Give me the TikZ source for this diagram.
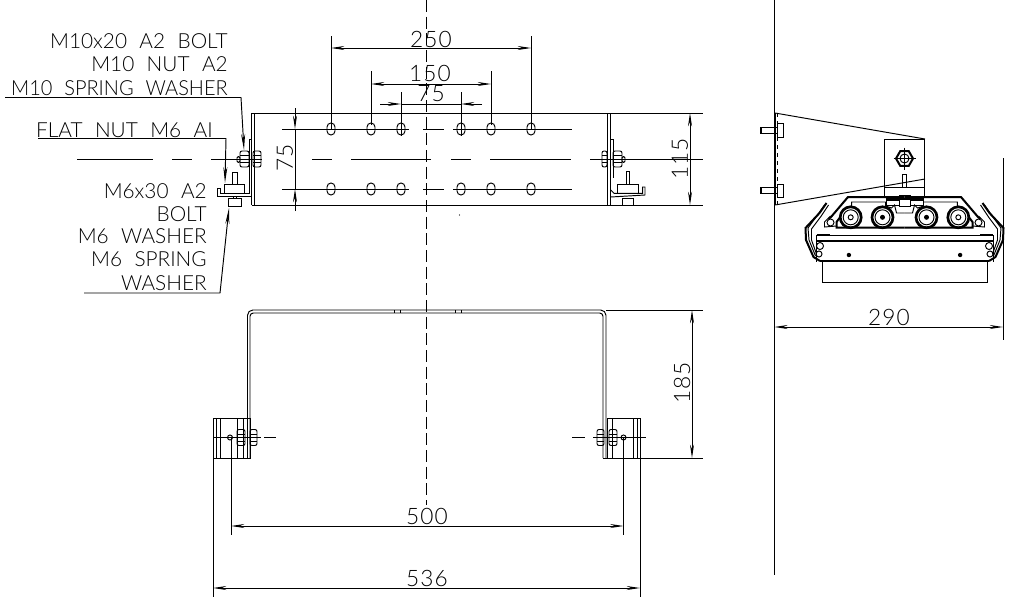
\documentclass[tikz,border=0pt]{standalone}
\usepackage{fontspec}
\setmainfont{Lato}[UprightFont=* Light,WordSpace=2.2]
\newfontfamily\dimfont{Lato}[UprightFont=* Light,LetterSpace=5]
\usetikzlibrary{arrows.meta}

\tikzset{
  partline/.style={line width=0.72pt},
  heavyline/.style={line width=1.5pt},
  rollerline/.style={line width=2pt},
  leaderline/.style={line width=0.72pt,-{Stealth[length=12pt,width=3pt]}},
  dimline/.style={line width=0.72pt,>={Stealth[length=10pt,width=3pt]}},
  cadtext/.style={inner sep=0pt,font=\fontsize{15.6}{15.6}\selectfont},
  dimtext/.style={inner sep=0pt,font=\dimfont\fontsize{17}{17}\selectfont},
  axisline/.style={line width=0.72pt,dash pattern=on 9pt off 3.5pt}
}
% oval hole in the top view
\newcommand{\slothole}[2]{\draw[partline,rounded corners=3pt] (#1,#2) +(-4,-6) rectangle +(4,6);}
% nut seen from the side, left edge, right edge
\newcommand{\sidenut}[3]{
  \draw[partline,rounded corners=1.5pt] (#1,#3-8) rectangle (#2,#3+8);
  \draw[partline] (#1,#3-3.5) -- (#2,#3-3.5);
  \draw[partline] (#1,#3+3.5) -- (#2,#3+3.5);
}
% left half of the carriage, centre at x=0
\newcommand{\carriagehalf}{
  \draw[heavyline] (0,197) -- (-56.5,197) -- (-73.5,217) -- (-76,219);
  \draw[partline] (0,213) -- (-8,213) -- (-10,205) -- (-13,208) -- (-19,206) -- (-19,202) -- (-52.8,202) -- (-52.8,207);
  \draw[heavyline] (0,227.5) -- (-68,227.5) -- (-68,222) -- (-65,218);
  \draw[partline] (-68,226) -- (-80,227) -- (-80,222) -- (-74,216);
  \draw[partline] (0,235) -- (-88.5,235) -- (-88.5,262);
  \draw[heavyline] (-88,234.5) -- (-75,234.5);
  \draw[heavyline] (0,240.7) -- (-89,240.7);
  \draw[heavyline] (0,260.7) -- (-84.5,260.7);
  \draw[partline] (-82.5,261) -- (-82.5,282) -- (0,282);
  \draw[heavyline] (-78,203) -- (-85,213) -- (-99,228) -- (-98.5,240) -- (-91,257) -- (-84.5,261);
  \draw[partline] (-76,205) -- (-84,217) -- (-93,229) -- (-93,240) -- (-88,254);
  \draw[partline] (-80,205) -- (-87,215) -- (-96.5,228) -- (-95.5,240) -- (-89,256);
  \draw[partline] (-74,222.5) circle (3.5);
  \draw[partline] (-84.5,246) circle (3.5);
  \draw[partline] (-85.5,254) circle (3);
  \fill (-55.6,255) circle (2.2);
  % outer and inner roller
  \draw[rollerline] (-53.8,217.3) circle (10.5);
  \draw[partline] (-53.8,217.3) circle (7.5);
  \draw[partline] (-53.8,217.3) circle (2.5);
  \draw[rollerline] (-22,217.3) circle (10.5);
  \draw[partline] (-22,217.3) circle (7.5);
  \fill (-22,217.3) circle (2.5);
}

\begin{document}
\begin{tikzpicture}[x=0.75pt,y=0.75pt,yscale=-1,xscale=1]
\useasboundingbox (0,0) rectangle (1017,600);

% Centre Lines
\draw[axisline] (426,0) -- (426,505);
\draw[partline] (77,159) -- (153,159);
\draw[partline] (172,159) -- (192,159);
\draw[partline] (211,159) -- (262,159);
\draw[partline] (312,159) -- (332,159);
\draw[partline] (351,159) -- (431,159);
\draw[partline] (451,159) -- (471,159);
\draw[partline] (490,159) -- (571,159);
\draw[partline] (590,159) -- (703,159);
\draw[partline] (282,129) -- (409,129);
\draw[partline] (423,129) -- (444,129);
\draw[partline] (453,129) -- (572,129);
\draw[partline] (282,189) -- (409,189);
\draw[partline] (423,189) -- (444,189);
\draw[partline] (453,189) -- (572,189);

% Top View Plate
\draw[partline] (251.5,113) -- (703,113);
\draw[partline] (251.5,205) -- (703,205);
\draw[partline] (251.5,113) -- (251.5,205);
\draw[partline] (254,113) -- (254,205);
\draw[partline] (607.3,113) -- (607.3,205);
\draw[partline] (610.7,113) -- (610.7,205);
\fill (459.5,215) circle (0.6);

% Slots
\slothole{331}{129}
\slothole{371}{129}
\slothole{401}{129}
\slothole{461}{129}
\slothole{491}{129}
\slothole{531}{129}
\slothole{331}{189}
\slothole{371}{189}
\slothole{401}{189}
\slothole{461}{189}
\slothole{491}{189}
\slothole{531}{189}

% Left Clamp
\draw[partline] (249,139) -- (251.5,139);
\draw[partline] (249,139) -- (249,193) -- (220,193) -- (220,188) -- (217,188) -- (217,196) -- (251.5,196);
\draw[partline] (224,192.5) -- (224,184) -- (244,184) -- (244,192.5);
\draw[partline] (232,184) -- (232,172) -- (237,172) -- (237,184);
\draw[partline] (228,198) rectangle (241,206);
\draw[partline] (233,196) -- (233,198);
\draw[partline] (236,196) -- (236,198);
\sidenut{240}{249}{159}
\sidenut{253}{261}{159}
\draw[partline,rounded corners=1pt] (237,156.5) rectangle (240,162.5);

% Right Clamp
\draw[partline] (610.7,139) -- (613,139) -- (613,178);
\draw[partline] (610.7,190) -- (614,193.3) -- (642.7,193.3) -- (642.7,187) -- (645,187) -- (645,195) -- (610.7,197);
\draw[partline] (617,192.5) -- (617,184) -- (638,184) -- (638,192.5);
\draw[partline] (626,184) -- (626,171) -- (629.5,171) -- (629.5,184);
\draw[partline] (622,198) rectangle (633,205);
\sidenut{602}{607}{159}
\sidenut{613}{622}{159}
\draw[partline,rounded corners=1pt] (622,156.5) rectangle (625,162.5);

% Lower Bracket
\draw[partline,rounded corners=4pt] (247.5,458) -- (247.5,310) -- (606,310) -- (606,458);
\draw[partline,rounded corners=2.5pt] (250,458) -- (250,313) -- (603,313) -- (603,458);
\draw[partline] (606,310) -- (703,310);
\draw[partline] (394,310) -- (394,313);
\draw[partline] (400,310) -- (400,313);
\draw[partline] (455,310) -- (455,313);
\draw[partline] (461,310) -- (461,313);

% Left Foot
\draw[partline] (213,418) rectangle (250,458);
\draw[partline] (216,418) -- (216,458);
\draw[partline] (220,418) -- (220,458);
\draw[partline] (237,418) -- (237,458);
\draw[partline] (243,418) -- (243,458);
\draw[partline] (213,437.5) -- (261,437.5);
\draw[partline] (264,437.5) -- (276,437.5);
\sidenut{237}{245}{437.5}
\sidenut{250}{257}{437.5}
\draw[partline] (230,437.5) circle (2.5);

% Right Foot
\draw[partline] (607,418) rectangle (640,458);
\draw[partline] (603,458) -- (703,458);
\draw[partline] (612,418) -- (612,458);
\draw[partline] (633,418) -- (633,458);
\draw[partline] (637,418) -- (637,458);
\draw[partline] (593,437.5) -- (646,437.5);
\draw[partline] (572,437.5) -- (585,437.5);
\sidenut{597}{604}{437.5}
\sidenut{609}{617}{437.5}
\draw[partline] (623.5,437.5) circle (2.5);

% Dimension Lines
\draw[partline] (331,36) -- (331,129);
\draw[partline] (531,36) -- (531,129);
\draw[dimline,<->] (331,48) -- (531,48);
\draw[partline] (371,71) -- (371,125);
\draw[partline] (491,71) -- (491,125);
\draw[dimline,<->] (371,84) -- (491,84);
\draw[partline] (401,92) -- (401,136);
\draw[partline] (461,92) -- (461,136);
\draw[dimline,->] (380,104) -- (401,104);
\draw[partline] (401,104) -- (461,104);
\draw[dimline,->] (482,104) -- (461,104);
\draw[dimline,->] (295,108) -- (295,129);
\draw[partline] (295,129) -- (295,189);
\draw[dimline,->] (295,211) -- (295,189);
\draw[dimline,<->] (690,113) -- (690,205);
\draw[dimline,<->] (692,310) -- (692,458);
\draw[partline] (231,437.5) -- (231,535);
\draw[partline] (623.5,437.5) -- (623.5,535);
\draw[dimline,<->] (231,526) -- (623.5,526);
\draw[partline] (213,458) -- (213,597);
\draw[partline] (640,458) -- (640,597);
\draw[dimline,<->] (213,588) -- (640,588);

% Side View Wall And Wedge
\draw[partline] (774.3,0) -- (774.3,575);
\draw[partline] (1003,158) -- (1003,340);
\draw[dimline,<->] (774.3,327) -- (1003,327);
\draw[partline] (775,113) -- (925,139);
\draw[partline] (775,205) -- (925,179);
\draw[partline] (775,113) -- (775,205);
\draw[partline,dashed] (777.5,113) -- (777.5,205);

% Side View Bolts
\draw[partline] (760,127) -- (777,127);
\draw[partline] (760,133.5) -- (777,133.5);
\draw[heavyline] (761,127) -- (761,133.5);
\draw[partline] (777.5,123) rectangle (783,137);
\draw[partline] (760,187) -- (777,187);
\draw[partline] (760,193.5) -- (777,193.5);
\draw[heavyline] (761,187) -- (761,193.5);
\draw[partline] (777.5,184) rectangle (783,197);

% Side View Angle
\draw[partline] (884.3,197) -- (884.3,139.3) -- (924.5,139.3) -- (924.5,197);
\draw[partline] (884.3,187.3) -- (924.5,187.3);
\draw[heavyline] (885.5,198.8) -- (923.5,198.8);
\draw[partline] (886,200.7) rectangle (899,205);
\draw[partline] (910,200.7) rectangle (923,205);
\draw[partline] (899,195) rectangle (910,206);
\draw[partline] (902.5,187.3) -- (902.5,174) -- (906.7,174) -- (906.7,187.3);
\draw[heavyline] (904.5,158.5) +(0:8.5) -- +(60:8.5) -- +(120:8.5) -- +(180:8.5) -- +(240:8.5) -- +(300:8.5) -- cycle;
\draw[partline] (904.5,158.5) circle (4.5);
\draw[partline] (904.5,147.5) -- (904.5,169.5);
\draw[partline] (893.5,158.5) -- (915.5,158.5);

% Carriage
\begin{scope}[shift={(904.5,0)}]
\carriagehalf
\end{scope}
\begin{scope}[shift={(904.5,0)},xscale=-1]
\carriagehalf
\end{scope}

% Leaders
\coordinate (tipa) at (244,150);
\coordinate (kneea) at (241,97.5);
\coordinate (starta) at (5,97.5);
\draw[leaderline] (starta) -- (kneea) -- (tipa);
\coordinate (tipb) at (225,183);
\coordinate (kneeb) at (226,138.5);
\coordinate (startb) at (38,138.5);
\draw[leaderline] (startb) -- (kneeb) -- (tipb);
\coordinate (tipc) at (229,208);
\coordinate (kneec) at (220,293);
\coordinate (startc) at (84,293);
\draw[leaderline] (startc) -- (kneec) -- (tipc);

% Text Node
\node (boltlabel) [cadtext,anchor=east] at (228,41) {M10x20 A2 BOLT};
% Text Node
\node (nutlabel) [cadtext,anchor=east] at (228,64) {M10 NUT A2};
% Text Node
\node (springlabel) [cadtext,anchor=east] at (228,88) {\scalebox{0.96}[1]{M10 SPRING WASHER}};
% Text Node
\node (flatlabel) [cadtext,anchor=east] at (213,130) {FLAT NUT M6 AI};
% Text Node
\node (sixlabel) [cadtext,anchor=east] at (207,191) {M6x30 A2};
% Text Node
\node (sixbolt) [cadtext,anchor=east] at (207,214) {BOLT};
% Text Node
\node (sixwasher) [cadtext,anchor=east] at (207,236) {M6 WASHER};
% Text Node
\node (sixspring) [cadtext,anchor=east] at (207,259) {M6 SPRING};
% Text Node
\node (sixwasherb) [cadtext,anchor=east] at (207,283) {WASHER};
% Text Node
\node (dimouter) [dimtext] at (431,39) {250};
% Text Node
\node (dimmiddle) [dimtext] at (430,73) {150};
% Text Node
\node (diminner) [dimtext] at (431,94) {75};
% Text Node
\node (dimpitch) [dimtext,rotate=90] at (285,158) {75};
% Text Node
\node (dimheight) [dimtext,rotate=90] at (680,159) {115};
% Text Node
\node (dimdrop) [dimtext,rotate=90] at (682,383) {185};
% Text Node
\node (dimcentres) [dimtext] at (427,516) {500};
% Text Node
\node (dimwidth) [dimtext] at (427,578) {536};
% Text Node
\node (dimdepth) [dimtext] at (889,317) {290};

\end{tikzpicture}
\end{document}
